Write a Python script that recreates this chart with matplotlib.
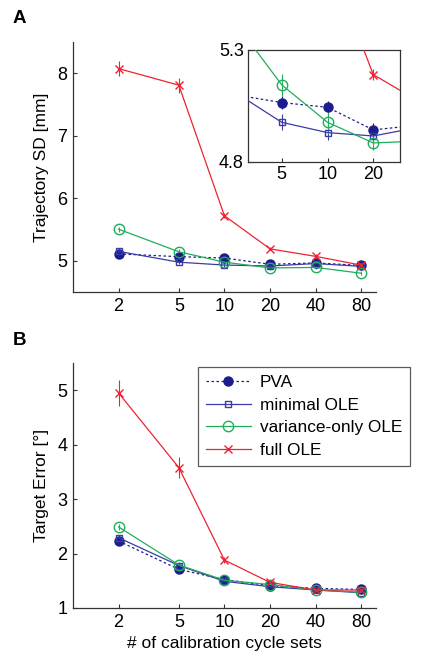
import numpy as np
import matplotlib
matplotlib.use('Agg')
import matplotlib.pyplot as plt
from matplotlib.ticker import FixedLocator, NullLocator

plt.rcParams['font.family'] = ['Liberation Sans', 'DejaVu Sans']
plt.rcParams['font.size'] = 12.5

# calibration cycle sets
sets = [2, 5, 10, 20, 40, 80]
labels = ['PVA', 'minimal OLE', 'variance-only OLE', 'full OLE']

# Panel A: trajectory SD [mm]
traj_pva = [5.11, 5.065, 5.044, 4.943, 4.965, 4.925]
traj_min = [5.15, 4.977, 4.931, 4.916, 4.955, 4.91]
traj_var = [5.505, 5.144, 4.977, 4.885, 4.893, 4.80]
traj_full = [8.075, 7.81, 5.72, 5.19, 5.07, 4.93]
traj_pva_err = [0.03, 0.03, 0.03, 0.03, 0.03, 0.03]
traj_min_err = [0.03, 0.035, 0.035, 0.03, 0.03, 0.03]
traj_var_err = [0.04, 0.05, 0.05, 0.03, 0.03, 0.03]
traj_full_err = [0.12, 0.12, 0.04, 0.025, 0.03, 0.03]

# Panel B: target error [deg]
targ_pva = [2.23, 1.71, 1.52, 1.41, 1.36, 1.34]
targ_min = [2.29, 1.78, 1.49, 1.39, 1.33, 1.28]
targ_var = [2.49, 1.79, 1.51, 1.43, 1.33, 1.29]
targ_full = [4.95, 3.58, 1.88, 1.47, 1.33, 1.33]
targ_pva_err = [0.05, 0.04, 0.03, 0.03, 0.03, 0.03]
targ_min_err = [0.05, 0.04, 0.03, 0.03, 0.03, 0.03]
targ_var_err = [0.06, 0.05, 0.03, 0.03, 0.03, 0.03]
targ_full_err = [0.24, 0.2, 0.05, 0.04, 0.03, 0.03]

c_pva = '#1c1c8c'
c_min = '#3a3aa8'
c_var = '#1fae5a'
c_full = '#ee2233'

styles = [
    dict(color=c_pva, ls=(0, (2, 2)), marker='o', ms=6.5, mfc=c_pva, mec=c_pva, lw=0.9),
    dict(color=c_min, ls='-', marker='s', ms=5, mfc='none', mec=c_min, lw=0.9),
    dict(color=c_var, ls='-', marker='o', ms=7.5, mfc='none', mec=c_var, lw=0.9),
    dict(color=c_full, ls='-', marker='x', ms=5.5, mfc='none', mec=c_full, lw=0.9, mew=1.0),
]


def draw(ax, series, errs):
    handles = []
    for y, e, st, lab in zip(series, errs, styles, labels):
        ax.errorbar(sets, y, yerr=e, fmt='none', ecolor=st['color'], elinewidth=0.8,
                    capsize=0, zorder=2)
        h, = ax.plot(sets, y, label=lab, zorder=3, **st)
        handles.append(h)
    return handles


def style_axis(ax, box=False):
    ax.set_xscale('log')
    ax.xaxis.set_major_locator(FixedLocator(sets))
    ax.xaxis.set_minor_locator(NullLocator())
    ax.set_xticklabels([str(s) for s in sets])
    ax.tick_params(direction='in', length=3, width=0.8, color='#333333', labelsize=13,
                   pad=4)
    for s in ax.spines.values():
        s.set_color('#333333')
        s.set_linewidth(0.9)
    if not box:
        ax.spines['top'].set_visible(False)
        ax.spines['right'].set_visible(False)


fig = plt.figure(figsize=(4.24, 6.63), dpi=100)

# Panel A
axA = fig.add_axes([0.172, 0.5596, 0.7146, 0.377])
draw(axA, [traj_pva, traj_min, traj_var, traj_full],
     [traj_pva_err, traj_min_err, traj_var_err, traj_full_err])
style_axis(axA)
axA.set_xlim(1, 100)
axA.set_ylim(4.5, 8.5)
axA.set_yticks([5, 6, 7, 8])
axA.set_ylabel('Trajectory SD [mm]', fontsize=12.5, labelpad=6)
fig.text(0.03, 0.972, 'A', fontsize=13.5, fontweight='bold', va='center')

# inset
axI = fig.add_axes([0.585, 0.7557, 0.3585, 0.169])
draw(axI, [traj_pva, traj_min, traj_var, traj_full],
     [traj_pva_err, traj_min_err, traj_var_err, traj_full_err])
style_axis(axI, box=True)
axI.set_xlim(3, 30)
axI.set_ylim(4.8, 5.3)
axI.xaxis.set_major_locator(FixedLocator([5, 10, 20]))
axI.set_xticklabels(['5', '10', '20'])
axI.set_yticks([4.8, 5.3])
axI.set_yticklabels(['4.8', '5.3'])
axI.tick_params(pad=3)

# Panel B
axB = fig.add_axes([0.172, 0.083, 0.7146, 0.3695])
hs = draw(axB, [targ_pva, targ_min, targ_var, targ_full],
          [targ_pva_err, targ_min_err, targ_var_err, targ_full_err])
style_axis(axB)
axB.set_xlim(1, 100)
axB.set_ylim(1, 5.5)
axB.set_yticks([1, 2, 3, 4, 5])
axB.set_ylabel('Target Error [°]', fontsize=12.5, labelpad=6)
axB.set_xlabel('# of calibration cycle sets', fontsize=12.5, labelpad=4)
fig.text(0.03, 0.487, 'B', fontsize=13.5, fontweight='bold', va='center')

leg = fig.legend(handles=hs, loc='upper left', bbox_to_anchor=(0.467, 0.4465),
                 bbox_transform=fig.transFigure, fontsize=12.4, frameon=True,
                 fancybox=False, borderaxespad=0, handlelength=2.6,
                 handletextpad=0.55, labelspacing=0.45, borderpad=0.45)
leg.get_frame().set_edgecolor('#333333')
leg.get_frame().set_linewidth(0.9)

fig.savefig('out.png', dpi=100)
